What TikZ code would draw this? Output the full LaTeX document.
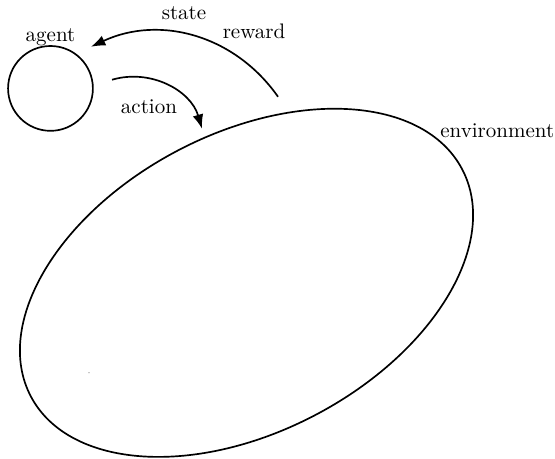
\documentclass[tikz,border=0pt]{standalone}
\usepackage{amsmath}
\usepackage{tikz}
\usetikzlibrary{positioning,shapes.geometric,arrows.meta}

\begin{document}
\begin{tikzpicture}[scale=1, thick, >={Latex[length=2.4mm,width=1.8mm]}]

        \useasboundingbox (0,0) rectangle (9.29,7.68);

        \coordinate (s0) at (4.654,6.06);
        \coordinate (s1) at (1.523,6.897);
        \coordinate (a0) at (1.875,6.345);
        \coordinate (a1) at (3.382,5.524);
        \coordinate (dot) at (1.49,1.44);

        \node[draw, circle, minimum size=1.42cm] (agent) at (0.845,6.2) {};
        \node[draw, ellipse, minimum width=8.16cm, minimum height=4.99cm, rotate=27.8] (env) at (4.126,2.946) {};

        \path[draw, ->] (s0) to[bend right=40] (s1);
        \path[draw, ->] (a0) to[bend left=45] (a1);

        \node[above=-4pt of agent] (agentlabel) {agent};
        \node (statelabel) at (3.08,7.466) {state};
        \node (rewardlabel) at (4.252,7.15) {reward};
        \node (actionlabel) at (2.494,5.89) {action};
        \node[anchor=east, inner sep=0pt] (envlabel) at (9.29,5.49) {environment};

        \path[fill, gray] (dot) circle (0.3pt);

    \end{tikzpicture}
\end{document}
